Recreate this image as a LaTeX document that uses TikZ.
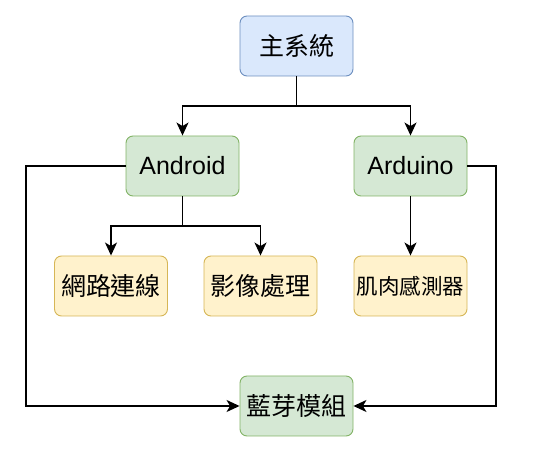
\documentclass[tikz,border=0pt]{standalone}
\usepackage{fontspec}
\setmainfont{Liberation Sans}
\newfontfamily\cjk{Noto Sans CJK TC}
\usetikzlibrary{arrows.meta}
\definecolor{bfill}{HTML}{DAE8FC}\definecolor{bdraw}{HTML}{6C8EBF}
\definecolor{gfill}{HTML}{D5E8D4}\definecolor{gdraw}{HTML}{82B366}
\definecolor{yfill}{HTML}{FFF2CC}\definecolor{ydraw}{HTML}{D6B656}
\tikzset{
  box/.style={rounded corners=7pt, minimum width=113pt, minimum height=60pt, inner sep=0pt, line width=0.9pt, font=\fontsize{25}{28}\selectfont, text=black},
  bluebox/.style={box, fill=bfill, draw=bdraw},
  greenbox/.style={box, fill=gfill, draw=gdraw},
  yellowbox/.style={box, fill=yfill, draw=ydraw},
  conn/.style={line width=1.3pt, -{Stealth[length=13pt,width=12pt,inset=3.5pt]}},
  plain/.style={line width=1.3pt}
}
\begin{document}
\begin{tikzpicture}[x=1pt,y=-1pt]
\useasboundingbox (0,0) rectangle (550,454);
\node[bluebox] (main) at (296.5,46) {\cjk 主系統};
\node[greenbox] (android) at (182.5,166) {Android};
\node[greenbox] (arduino) at (410.5,166) {Arduino};
\node[yellowbox] (net) at (111,286) {\cjk 網路連線};
\node[yellowbox] (img) at (260.5,286) {\cjk 影像處理};
\node[yellowbox, font=\fontsize{21.5}{24}\selectfont] (muscle) at (410.5,286) {\cjk 肌肉感測器};
\node[greenbox] (bt) at (296.5,406) {\cjk 藍芽模組};
\coordinate (j1) at (296.5,106);
\coordinate (j2) at (182.5,226);
\coordinate (lx) at (26,0);
\coordinate (rx) at (496,0);
\draw[plain] (main.south) -- (j1);
\draw[conn] (j1) -| (android.north);
\draw[conn] (j1) -| (arduino.north);
\draw[plain] (android.south) -- (j2);
\draw[conn] (j2) -| (net.north);
\draw[conn] (j2) -| (img.north);
\draw[conn] (arduino.south) -- (muscle.north);
\draw[conn] (android.west) -- (android.west -| lx) |- (bt.west);
\draw[conn] (arduino.east) -- (arduino.east -| rx) |- (bt.east);
\end{tikzpicture}
\end{document}
